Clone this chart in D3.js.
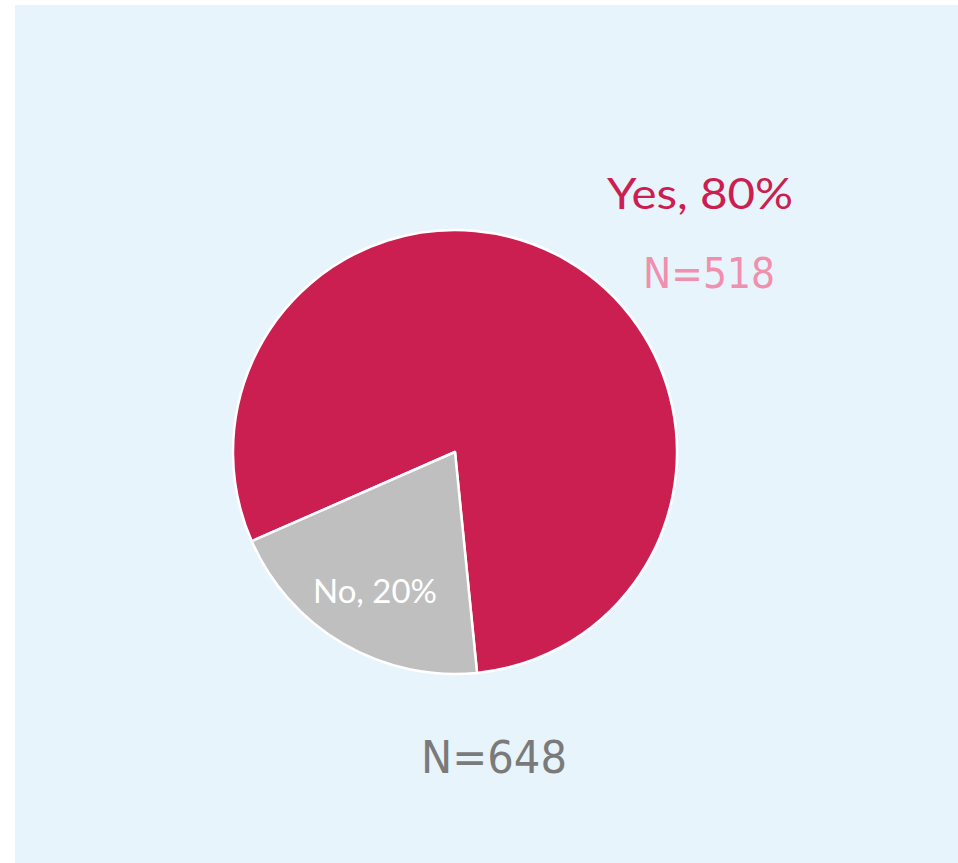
<!DOCTYPE html>
<html><head><meta charset="utf-8">
<script src="https://cdn.jsdelivr.net/npm/d3@7"></script>
<style>html,body{margin:0;padding:0;background:#fff;}svg{display:block;}</style>
</head><body>
<svg id="c" width="958" height="863"></svg>
<script>
const categories = ["Yes", "No"];
const percents = [80, 20];
const counts = [518, 130];
const total = 648;
const colors = ["#CB1F52", "#BFBFBF"];

const svg = d3.select("#c");
svg.append("rect").attr("x", 15).attr("y", 5).attr("width", 943).attr("height", 858).attr("fill", "#E8F4FB");

const cx = 455, cy = 452, r = 222;
const start = -113.7 * Math.PI / 180;
const pie = d3.pie().sort(null).value(d => d).startAngle(start).endAngle(start + 2 * Math.PI);
const arcs = pie(percents);
const arc = d3.arc().innerRadius(0).outerRadius(r);
const g = svg.append("g").attr("transform", `translate(${cx},${cy})`);
g.selectAll("path").data(arcs).join("path")
  .attr("d", arc).attr("fill", (d, i) => colors[i])
  .attr("stroke", "#fff").attr("stroke-width", 2.5).attr("stroke-linejoin", "round");

// Yes labels
svg.append("text").attr("x", 700).attr("y", 209).attr("text-anchor", "middle")
  .attr("font-family", "Lato, 'Open Sans', sans-serif").attr("font-size", 43)
  .attr("fill", colors[0]).attr("textLength", 186).attr("lengthAdjust", "spacingAndGlyphs")
  .text(`${categories[0]}, ${percents[0]}%`);
svg.append("text").attr("x", 709).attr("y", 288).attr("text-anchor", "middle")
  .attr("font-family", "'DejaVu Sans', sans-serif").attr("font-size", 42)
  .attr("fill", "#F08FAE").attr("textLength", 132).attr("lengthAdjust", "spacingAndGlyphs")
  .text(`N=${counts[0]}`);

// No label inside slice
svg.append("text").attr("x", 375).attr("y", 603).attr("text-anchor", "middle")
  .attr("font-family", "Lato, 'Open Sans', sans-serif").attr("font-size", 32)
  .attr("fill", "#fff").attr("textLength", 124).attr("lengthAdjust", "spacingAndGlyphs")
  .text(`${categories[1]}, ${percents[1]}%`);

// total
svg.append("text").attr("x", 494).attr("y", 773).attr("text-anchor", "middle")
  .attr("font-family", "'DejaVu Sans', sans-serif").attr("font-size", 44)
  .attr("fill", "#7A7A7A").attr("textLength", 146).attr("lengthAdjust", "spacingAndGlyphs")
  .text(`N=${total}`);
</script>
</body></html>
